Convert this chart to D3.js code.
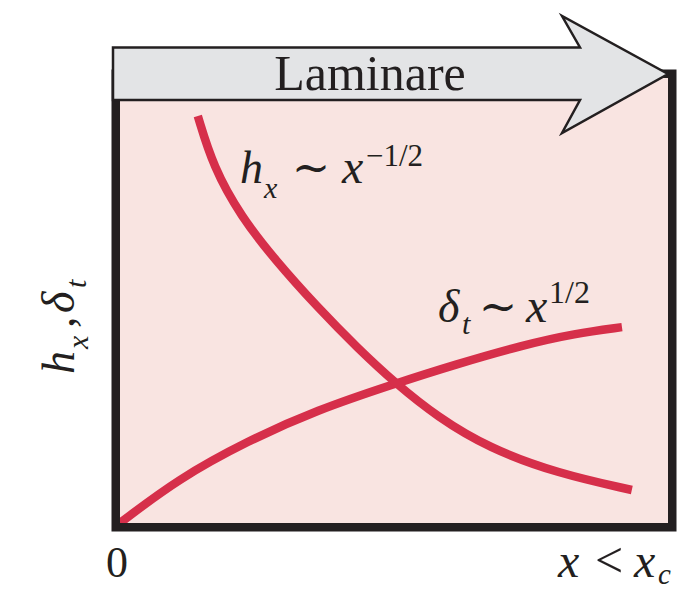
<!DOCTYPE html>
<html>
<head>
<meta charset="utf-8">
<script src="https://cdn.jsdelivr.net/npm/d3@7"></script>
<style>
  html, body { margin: 0; padding: 0; background: #ffffff; }
  svg { display: block; }
</style>
</head>
<body>
<svg id="chart" width="693" height="590"></svg>
<script>
// Normalised position along the plate (0 = leading edge)
const deltaX = [0, 0.107, 0.233, 0.359, 0.503, 0.610, 0.736, 0.830, 0.916];
// Thermal boundary-layer thickness, grows like x^(1/2)
const deltaY = [0.0, 0.105, 0.194, 0.267, 0.330, 0.374, 0.421, 0.448, 0.463];
// Local heat transfer coefficient, falls like x^(-1/2)
const hX = [0.142, 0.170, 0.221, 0.283, 0.359, 0.434, 0.503, 0.579, 0.673, 0.799, 0.934];
const hY = [0.962, 0.842, 0.724, 0.622, 0.512, 0.413, 0.330, 0.251, 0.177, 0.117, 0.078];
const xTicks = ["0"];
const regimeLabel = "Laminare";

const SERIF = "'Liberation Serif', 'Times New Roman', Times, 'DejaVu Serif', serif";

const svg = d3.select("#chart");

// plot frame (inner edges of the thick border)
const frame = { left: 120, right: 668, top: 78, bottom: 523 };
const border = 8.5;
const ink = "#231f20";
const red = "#d62f4a";

const x = d3.scaleLinear().domain([0, 1]).range([frame.left, frame.right]);
const y = d3.scaleLinear().domain([0, 1]).range([frame.bottom, 100]);

// background fill
svg.append("rect")
  .attr("x", frame.left).attr("y", frame.top)
  .attr("width", frame.right - frame.left).attr("height", frame.bottom - frame.top)
  .attr("fill", "#f9e4e1");

const line = d3.line()
  .x(d => x(d[0])).y(d => y(d[1]))
  .curve(d3.curveBasis);

const curves = [
  d3.zip(deltaX, deltaY),
  d3.zip(hX, hY)
];

svg.append("g")
  .selectAll("path")
  .data(curves)
  .join("path")
  .attr("d", line)
  .attr("fill", "none")
  .attr("stroke", red)
  .attr("stroke-width", 8.5)
  .attr("stroke-linecap", "butt");

// thick frame
svg.append("rect")
  .attr("x", frame.left - border / 2).attr("y", frame.top - border / 2)
  .attr("width", frame.right - frame.left + border)
  .attr("height", frame.bottom - frame.top + border)
  .attr("fill", "none")
  .attr("stroke", ink)
  .attr("stroke-width", border);

// flow-regime arrow across the top
const aL = 113, aTop = 47.5, aBot = 100, neckX = 580, headX = 562, headTop = 16, headBot = 133, tipX = 668, tipY = 74;
svg.append("path")
  .attr("d", d3.line()([
    [aL, aTop], [neckX, aTop], [headX, headTop], [tipX, tipY],
    [headX, headBot], [neckX, aBot], [aL, aBot]
  ]) + "Z")
  .attr("fill", "#e3e4e6")
  .attr("stroke", ink)
  .attr("stroke-width", 2.5)
  .attr("stroke-linejoin", "miter");

svg.append("text")
  .attr("font-family", SERIF)
  .attr("fill", ink)
  .attr("x", 370).attr("y", 90)
  .attr("text-anchor", "middle")
  .attr("font-size", 50)
  .text(regimeLabel);

// math-style annotation: each piece placed on its own (italic symbols, small sub/superscripts)
function mathText(parent, parts) {
  const g = parent.append("g");
  parts.forEach(p => {
    g.append("text")
      .attr("font-family", SERIF)
      .attr("fill", ink)
      .attr("x", p.x).attr("y", p.y)
      .attr("font-size", p.s)
      .attr("font-style", p.i ? "italic" : "normal")
      .attr("text-anchor", p.a || "start")
      .text(p.t);
  });
  return g;
}

mathText(svg, [
  { t: "h", i: true, x: 240, y: 183, s: 46 },
  { t: "x", i: true, x: 264, y: 198, s: 30 },
  { t: "\u223C", x: 311, y: 183, s: 46, a: "middle" },
  { t: "x", i: true, x: 342, y: 183, s: 48 },
  { t: "\u22121/2", x: 366, y: 166, s: 31 }
]);

mathText(svg, [
  { t: "\u03B4", i: true, x: 438, y: 322, s: 46 },
  { t: "t", i: true, x: 462, y: 334, s: 30 },
  { t: "\u223C", x: 498, y: 322, s: 46, a: "middle" },
  { t: "x", i: true, x: 526, y: 322, s: 48 },
  { t: "1/2", x: 549, y: 303, s: 32 }
]);

// axis labels
svg.append("g").selectAll("text")
  .data(xTicks)
  .join("text")
  .attr("font-family", SERIF)
  .attr("fill", ink)
  .attr("x", x(0) - 3).attr("y", 577)
  .attr("text-anchor", "middle")
  .attr("font-size", 44)
  .text(d => d);

mathText(svg, [
  { t: "x", i: true, x: 558, y: 577, s: 48 },
  { t: "<", x: 609, y: 577, s: 50, a: "middle" },
  { t: "x", i: true, x: 634, y: 577, s: 48 },
  { t: "c", i: true, x: 658, y: 584, s: 29 }
]);

mathText(svg, [
  { t: "h", i: true, x: 0, y: 0, s: 46 },
  { t: "x", i: true, x: 25, y: 14, s: 30 },
  { t: ",", x: 46, y: 0, s: 46 },
  { t: "\u03B4", i: true, x: 61, y: 0, s: 46 },
  { t: "t", i: true, x: 86, y: 12, s: 30 }
]).attr("transform", "translate(74,374) rotate(-90)");
</script>
</body>
</html>
